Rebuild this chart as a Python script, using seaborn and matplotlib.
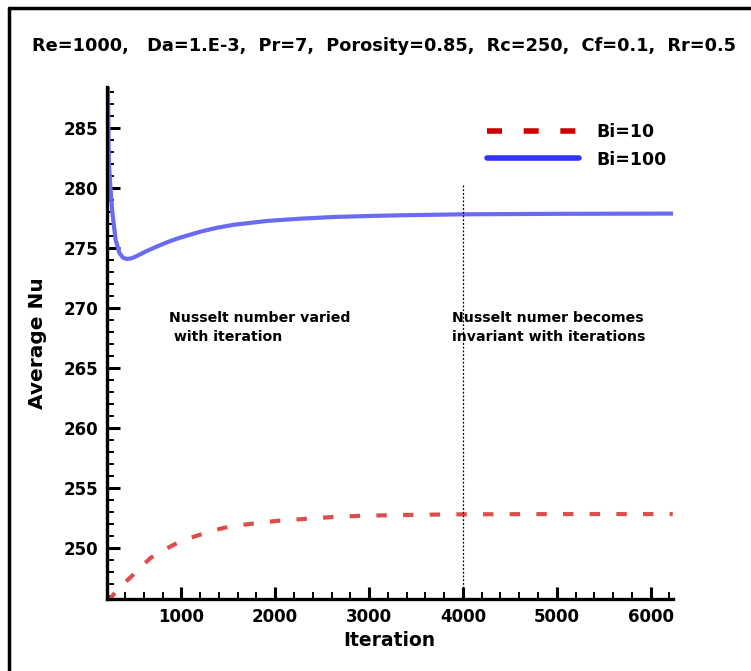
import matplotlib
matplotlib.use("Agg")
import matplotlib.pyplot as plt
from matplotlib.lines import Line2D
from matplotlib.ticker import MultipleLocator
import seaborn as sns
import pandas as pd

sns.set_style("white")
plt.rcParams['font.family'] = ['DejaVu Sans']
plt.rcParams['font.weight'] = 'bold'
plt.rcParams['text.color'] = 'black'
plt.rcParams['axes.labelcolor'] = 'black'
plt.rcParams['xtick.color'] = 'black'
plt.rcParams['ytick.color'] = 'black'

# ---- data ----
iter_bi100 = [215, 228, 245, 266, 300, 340, 380, 420, 460, 500, 560, 620, 700, 780,
              851, 950, 1050, 1206, 1380, 1560, 1918, 2275, 2632, 3000, 3346, 4000,
              5000, 6235]
nu_bi100 = [290.0, 282.1, 280.0, 277.9, 275.7, 274.6, 274.2, 274.1, 274.14, 274.25,
            274.48, 274.72, 275.0, 275.27, 275.5, 275.78, 276.02, 276.38, 276.7,
            276.95, 277.27, 277.46, 277.6, 277.68, 277.74, 277.82, 277.86, 277.88]

iter_bi10 = [210, 250, 350, 461, 570, 673, 800, 921, 1050, 1187, 1300, 1453, 1600,
             1755, 2039, 2322, 2606, 2890, 3173, 3600, 4000, 5000, 6235]
nu_bi10 = [245.7, 245.9, 246.8, 247.6, 248.45, 249.2, 249.8, 250.3, 250.75, 251.1,
           251.4, 251.7, 251.9, 252.05, 252.3, 252.45, 252.6, 252.7, 252.75, 252.8,
           252.83, 252.85, 252.85]

series_labels = ["Bi=10", "Bi=100"]
title_text = "Re=1000,   Da=1.E-3,  Pr=7,  Porosity=0.85,  Rc=250,  Cf=0.1,  Rr=0.5"
note_left = "Nusselt number varied\n with iteration"
note_right = "Nusselt numer becomes\ninvariant with iterations"
split_iter = 4000

df10 = pd.DataFrame({"Iteration": iter_bi10, "Nu": nu_bi10})
df100 = pd.DataFrame({"Iteration": iter_bi100, "Nu": nu_bi100})

W, H = 751, 671
fig = plt.figure(figsize=(W / 100, H / 100), dpi=100)
ax = fig.add_axes([106.7 / W, 1 - 599.3 / H, (672.7 - 106.7) / W, (599.3 - 87.3) / H])

red_plot = (0.87, 0.30, 0.30)
blue_plot = (0.42, 0.42, 0.95)
sns.lineplot(data=df10, x="Iteration", y="Nu", ax=ax, color=red_plot, lw=3.0,
             estimator=None, sort=False)
ax.lines[-1].set_dashes([2.5, 3.9])
sns.lineplot(data=df100, x="Iteration", y="Nu", ax=ax, color=blue_plot, lw=3.0,
             estimator=None, sort=False)

ax.set_xlim(205, 6235)
ax.set_ylim(245.75, 288.4)

ax.plot([split_iter, split_iter], [280.3, 245.75], color="black", lw=0.9,
        dashes=[1.5, 1.5])

ax.xaxis.set_major_locator(MultipleLocator(1000))
ax.xaxis.set_minor_locator(MultipleLocator(200))
ax.yaxis.set_major_locator(MultipleLocator(5))
ax.yaxis.set_minor_locator(MultipleLocator(1))
ax.tick_params(which="major", direction="in", length=9, width=2.2, labelsize=12,
               pad=6)
ax.tick_params(which="minor", direction="in", length=5, width=1.4)
ax.tick_params(axis="both", which="both", bottom=True, left=True, top=False, right=False)
for lbl in ax.get_xticklabels() + ax.get_yticklabels():
    lbl.set_fontweight("bold")

for s in ["top", "right"]:
    ax.spines[s].set_visible(False)
for s in ["left", "bottom"]:
    ax.spines[s].set_linewidth(2.4)
    ax.spines[s].set_color("black")

ax.set_xlabel("Iteration", fontsize=13.5, fontweight="bold", labelpad=4)
ax.set_ylabel("Average Nu", fontsize=14.5, fontweight="bold", labelpad=12)

ax.text(865, 268.4, note_left, fontsize=10.2, fontweight="bold", va="center",
        ha="left", linespacing=1.45)
ax.text(3883, 268.4, note_right, fontsize=10.2, fontweight="bold", va="center",
        ha="left", linespacing=1.45)

handles = [Line2D([], [], color=(0.8, 0.0, 0.0), lw=4, dashes=[2.7, 3.9]),
           Line2D([], [], color=(0.2, 0.2, 1.0), lw=4)]
leg = ax.legend(handles, series_labels, loc="upper left",
                bbox_to_anchor=((487 - 106.7) / (672.7 - 106.7), (599.3 - 123) / (599.3 - 87.3)),
                frameon=False, handlelength=5.3, handletextpad=1.0, labelspacing=0.55,
                prop={"weight": "bold", "size": 12.5}, borderaxespad=0, borderpad=0)

fig.text(384 / W, 1 - 46 / H, title_text, ha="center", va="center", fontsize=12.8,
         fontweight="bold")

# outer frame (left and top edges)
fig.add_artist(Line2D([9 / W, 9 / W], [0, 1 - 8 / H], color="black", lw=2.5,
                      transform=fig.transFigure))
fig.add_artist(Line2D([9 / W, 1], [1 - 8 / H, 1 - 8 / H], color="black", lw=2.5,
                      transform=fig.transFigure))

fig.savefig("out.png", dpi=100)
